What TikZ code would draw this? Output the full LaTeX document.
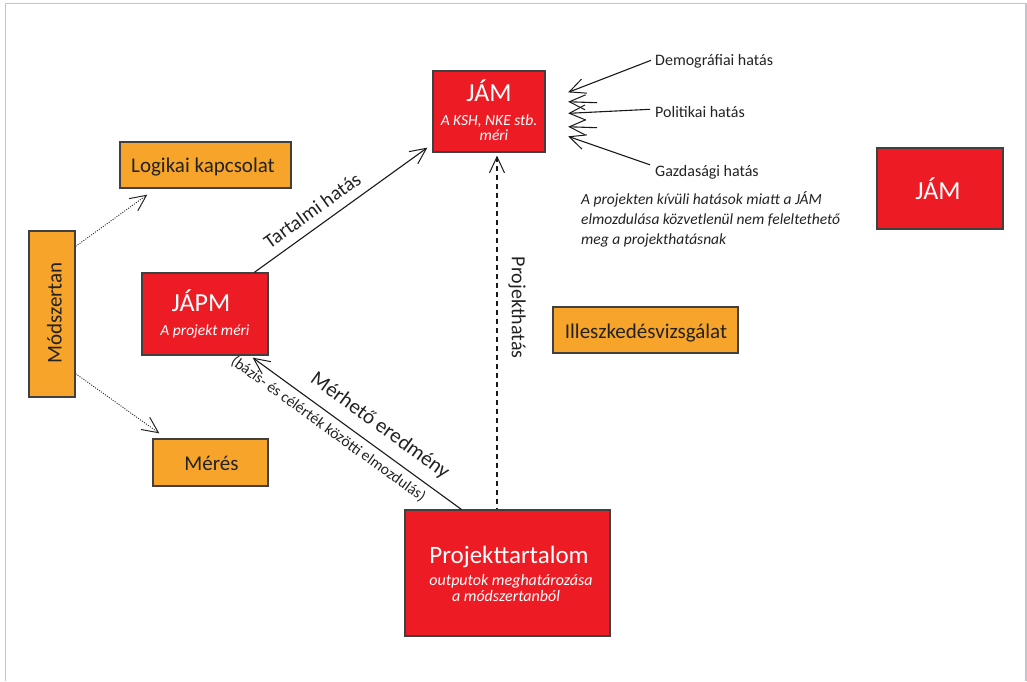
\documentclass[tikz,border=0pt]{standalone}
\usepackage{fontspec}
\setmainfont{Carlito}
\usetikzlibrary{arrows.meta,calc}
\definecolor{jred}{HTML}{ED1C24}
\definecolor{jorange}{HTML}{F7A52A}
\definecolor{jborder}{HTML}{404040}
\definecolor{jframe}{HTML}{C4C4CC}
\definecolor{jtext}{HTML}{222222}
\newcommand{\fs}[1]{\fontsize{#1}{#1}\selectfont}
\begin{document}
\begin{tikzpicture}[x=1pt,y=-1pt,
  redbox/.style={draw=jborder, line width=1.3pt, fill=jred, inner sep=0pt},
  orabox/.style={draw=jborder, line width=1.3pt, fill=jorange, inner sep=0pt},
  wtitle/.style={text=white, inner sep=0pt, anchor=base, font=\fs{26}},
  wsub/.style={text=white, inner sep=0pt, anchor=base, font=\fs{15.5}\itshape},
  otext/.style={text=jtext, inner sep=0pt, anchor=base, font=\fs{21}},
  ext/.style={text=jtext, inner sep=0pt, anchor=base west, font=\fs{16}},
  note/.style={text=jtext, inner sep=0pt, anchor=base west, font=\fs{15.5}\itshape},
  tip/.style={-{Straight Barb[length=16pt,width=15pt,line width=1pt]}},
  conn/.style={draw=black!90, line width=1.1pt, tip},
  dotconn/.style={draw=black!85, line width=0.9pt, dash pattern=on 1pt off 1.4pt, tip},
  dashconn/.style={draw=black!90, line width=1.1pt, dash pattern=on 5pt off 4pt, tip},
  lab/.style={text=jtext, inner sep=0pt}
]
\useasboundingbox (0,0) rectangle (1027,681);
\draw[jframe, line width=1.5pt] (5.5,681) -- (5.5,3.5) -- (1025.8,3.5) -- (1025.8,681);

% boxes
\node[redbox, minimum width=112pt, minimum height=81pt] (JAM) at (489,111.5) {};
\node[redbox, minimum width=126pt, minimum height=81pt] (JAM2) at (940,188.5) {};
\node[redbox, minimum width=126pt, minimum height=82pt] (JAPM) at (205,314) {};
\node[redbox, minimum width=205pt, minimum height=126pt] (PT) at (507.5,573) {};
\node[orabox, minimum width=171pt, minimum height=46pt] (LK) at (205.5,165) {};
\node[orabox, minimum width=46pt, minimum height=166pt] (MOD) at (52,314) {};
\node[orabox, minimum width=115pt, minimum height=47pt] (MER) at (210.5,462.5) {};
\node[orabox, minimum width=185pt, minimum height=46pt] (ILL) at (645.5,330) {};

% box texts
\node[wtitle] (JAMt) at (489,101.7) {JÁM};
\node[wsub] (JAMs1) at (489,125) {A KSH, NKE stb.};
\node[wsub] (JAMs2) at (494,140.5) {méri};
\node[wtitle] (JAM2t) at (938,199) {JÁM};
\node[wtitle] (JAPMt) at (201,311.7) {JÁPM};
\node[wsub] (JAPMs) at (205,335) {A projekt méri};
\node[wtitle, font=\fs{25}] (PTt) at (509,563) {Projekttartalom};
\node[wsub, font=\fs{16}\itshape] (PTs1) at (511,585) {outputok meghatározása};
\node[wsub, font=\fs{16}\itshape] (PTs2) at (506,601.7) {a módszertanból};
\node[otext] (LKt) at (203,172.5) {Logikai kapcsolat};
\node[otext] (MERt) at (211.5,470) {Mérés};
\node[otext] (ILLt) at (646,338) {Illeszkedésvizsgálat};
\node[otext, rotate=90] (MODt) at (61.5,313) {Módszertan};

% external influence labels
\node[ext] (DEM) at (655,65) {Demográfiai hatás};
\node[ext] (POL) at (655,117.3) {Politikai hatás};
\node[ext] (GAZ) at (655,176.5) {Gazdasági hatás};
\node[note] (n1) at (581,204) {A projekten kívüli hatások miatt a JÁM};
\node[note] (n2) at (581,224) {elmozdulása közvetlenül nem feleltethető};
\node[note] (n3) at (581,244) {meg a projekthatásnak};

% influence arrows
\coordinate (s1) at (597,102.7);
\coordinate (s2) at (597,127.7);
\draw[conn] ($(DEM.west)+(-4,-0.5)$) -- ($(JAM.north east)+(22.5,22)$);
\draw[conn] (s1) -- ($(JAM.north east)+(22.5,31.4)$);
\draw[conn] ($(POL.west)+(-5,-2.5)$) -- ($(JAM.north east)+(22.5,43)$);
\draw[conn] (s2) -- ($(JAM.north east)+(22.5,56.4)$);
\draw[conn] ($(GAZ.west)+(-5,-7.5)$) -- ($(JAM.north east)+(22.5,66)$);

% methodology arrows
\draw[dotconn] ($(MOD.north east)+(0,16)$) -- ($(LK.south west)+(28,6)$);
\draw[dotconn] ($(MOD.south east)+(0,-24)$) -- ($(MER.north west)+(7,-5)$);

% main connectors
\draw[conn] ($(JAPM.north west)+(113,0)$) -- node[lab, pos=0.39, above=9pt, sloped, font=\fs{20}] (TH) {Tartalmi hatás} ($(JAM.south west)+(-5,-5)$);
\draw[conn, -, {Straight Barb[length=16pt,width=15pt,line width=1pt]}-] ($(JAPM.south east)+(-16,2)$) --
  node[lab, pos=0.555, above=10pt, sloped, font=\fs{21}] (ME) {Mérhető eredmény}
  node[lab, pos=0.4, below=6pt, sloped, font=\fs{15.5}] (MEs) {(bázis- és célérték közötti elmozdulás)}
  ($(PT.north west)+(57,0)$);
\coordinate (pjx) at (497,0);
\draw[dashconn, -, {Straight Barb[length=16pt,width=15pt,line width=1pt]}-] ($(JAM.south -| pjx)+(0,3)$) --
  node[lab, pos=0.43, above=11pt, sloped, font=\fs{20}] (PH) {Projekthatás} (PT.north -| pjx);
\end{tikzpicture}
\end{document}
